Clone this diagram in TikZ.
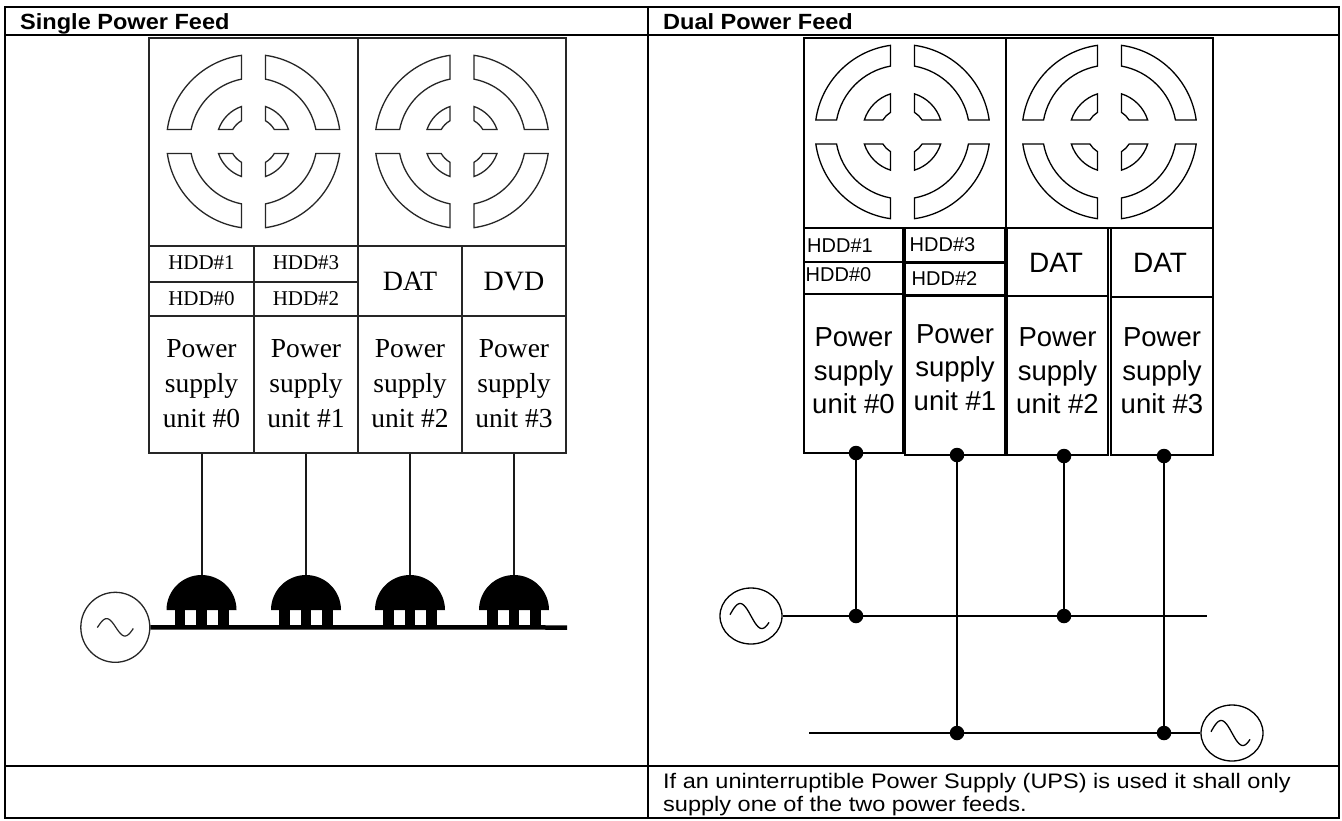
\documentclass[tikz,border=0pt]{standalone}
\usepackage{fontspec}
\usepackage{graphicx}
\setmainfont{Liberation Sans}
\newfontfamily\serifL{Liberation Serif}
\usetikzlibrary{shapes.geometric}
\newcommand\fanseg[3]{%
  \pgfmathsetmacro\aA{asin(#3/#1)}\pgfmathsetmacro\aB{asin(#3/#2)}%
  \pgfmathsetmacro\aAc{90-\aA}\pgfmathsetmacro\aBc{90-\aB}%
  \draw (\aA:#1) -- (\aB:#2) arc[start angle=\aB, end angle=\aBc, radius=#2]
    -- (\aAc:#1) arc[start angle=\aAc, end angle=\aA, radius=#1] -- cycle;}
\newcommand\drawfan[7]{%
  \foreach \rot in {0,90,180,270}{%
    \begin{scope}[shift={(#1,#2)}, rotate=\rot]
      \fanseg{#3}{#4}{#7}
      \fanseg{#5}{#6}{#7}
    \end{scope}}}
\begin{document}
\begin{tikzpicture}[x=1pt,y=-1pt,
  tbl/.style={line width=2pt},
  lline/.style={draw=black!85, line width=1.4pt},
  rline/.style={draw=black, line width=1.8pt},
  lbox/.style={draw=black!85, line width=1.4pt, rectangle, inner sep=0pt},
  rbox/.style={draw=black, line width=1.8pt, rectangle, inner sep=0pt},
  ltxt/.style={font=\serifL\fontsize{27.5}{35}\selectfont, align=center, inner sep=0pt},
  lhdd/.style={font=\serifL\fontsize{21}{22}\selectfont, inner sep=0pt, anchor=base},
  ldat/.style={font=\serifL\fontsize{28}{30}\selectfont, inner sep=0pt, anchor=base},
  rtxt/.style={font=\fontsize{27.5}{33.5}\selectfont, align=center, inner sep=0pt},
  rhdd/.style={font=\fontsize{20}{21}\selectfont, inner sep=0pt, anchor=base west},
  rdat/.style={font=\fontsize{28}{30}\selectfont, inner sep=0pt, anchor=base},
  hdr/.style={font=\bfseries\fontsize{22}{25}\selectfont, inner sep=0pt, anchor=base west},
  note/.style={font=\fontsize{21}{25}\selectfont, inner sep=0pt, anchor=base west},
  wireL/.style={line width=2pt, draw=black!90},
  wireR/.style={line width=1.9pt},
  jdot/.style={circle, fill=black, inner sep=0pt, minimum size=14.5pt},
  src/.style={draw=black, line width=1.3pt, ellipse, inner sep=0pt}]
\useasboundingbox (0,0) rectangle (1342,820);
\fill[white] (0,0) rectangle (1342,820);

% ---------- table ----------
\draw[tbl] (5,7) rectangle (1339,818);
\draw[tbl] (5,35) -- (1339,35);
\draw[tbl] (5,766) -- (1339,766);
\draw[tbl] (648,7) -- (648,818);
\node[hdr] (hA) at (20,29) {\scalebox{1.07}[1]{Single Power Feed}};
\node[hdr] (hB) at (663,29) {\scalebox{1.07}[1]{Dual Power Feed}};
\node[note] (nA) at (663,788) {\scalebox{1.12}[1]{If an uninterruptible Power Supply (UPS) is used it shall only}};
\node[note] (nB) at (663,811) {\scalebox{1.12}[1]{supply one of the two power feeds.}};

% ---------- left: single power feed ----------
\draw[lline] (149,38) rectangle (358,246);
\draw[lline] (358,38) rectangle (566,246);
\begin{scope}[draw=black!85, line width=1.3pt]
\drawfan{253.5}{141.5}{24}{37}{63.5}{87}{12}
\drawfan{462}{141.5}{24}{37}{63.5}{87}{12}
\end{scope}
\draw[lline] (149,246) rectangle (254,316);
\draw[lline] (254,246) rectangle (358,316);
\draw[lline] (358,246) rectangle (462,316);
\draw[lline] (462,246) rectangle (566,316);
\draw[lline] (149,282) -- (358,282);
\node[lhdd] (lh1) at (201.5,269) {HDD\#1};
\node[lhdd] (lh0) at (201.5,305) {HDD\#0};
\node[lhdd] (lh3) at (306,269) {HDD\#3};
\node[lhdd] (lh2) at (306,305) {HDD\#2};
\node[ldat] (ldat) at (410,290) {DAT};
\node[ldat] (ldvd) at (514,290) {DVD};
\node[lbox, minimum width=105pt, minimum height=137pt] (lpsu0) at (201.5,384.5) {};
\node[lbox, minimum width=104pt, minimum height=137pt] (lpsu1) at (306,384.5) {};
\node[lbox, minimum width=104pt, minimum height=137pt] (lpsu2) at (410,384.5) {};
\node[lbox, minimum width=104pt, minimum height=137pt] (lpsu3) at (514,384.5) {};
\node[ltxt] (lt0) at (201.5,383.5) {Power\\supply\\unit \#0};
\node[ltxt] (lt1) at (306,383.5) {Power\\supply\\unit \#1};
\node[ltxt] (lt2) at (410,383.5) {Power\\supply\\unit \#2};
\node[ltxt] (lt3) at (514,383.5) {Power\\supply\\unit \#3};
\coordinate (plug0) at (201.5,575);
\coordinate (plug1) at (306,575);
\coordinate (plug2) at (410,575);
\coordinate (plug3) at (514,575);
\foreach \i in {0,1,2,3}{
  \draw[wireL] (lpsu\i.south) -- (plug\i);
  \begin{scope}[shift={(plug\i)}]
    \fill (-35,35) arc[start angle=180, end angle=360, radius=35] -- cycle;
    \fill (-27,34) rectangle (-16.5,52);
    \fill (-5.3,34) rectangle (5.3,52);
    \fill (16.3,34) rectangle (27,52);
  \end{scope}}
\node[src, minimum width=69pt, minimum height=70pt, draw=black!85] (srcL) at (115.3,627.3) {};
\draw[line width=1.2pt, black!85, shift={(srcL.center)}] plot[domain=-18:18, samples=40, smooth] (\x,{8.7*sin((\x-0.5)/18.3*180)});
\coordinate (busLend) at (567,627.5);
\draw[line width=4.5pt] (srcL.east) -- (busLend);

% ---------- right: dual power feed ----------
\draw[rline, line width=1.6pt] (804,38) rectangle (1006,228);
\draw[rline, line width=1.6pt] (1006,38) rectangle (1213,228);
\begin{scope}[draw=black, line width=1.3pt]
\drawfan{902.5}{132}{23}{40}{67}{87.5}{12}
\drawfan{1109.5}{132}{23}{40}{67}{87.5}{12}
\end{scope}
\draw[rline] (804,228) rectangle (903,262);
\draw[rline] (804,262) rectangle (903,294);
\draw[rline] (905,228) rectangle (1005,262);
\draw[rline] (905,263.5) rectangle (1005,294.5);
\draw[rline] (1007,228) rectangle (1108,296);
\draw[rline] (1111,228) rectangle (1213,297);
\node[rhdd] (rh1) at (807,252) {HDD\#1};
\node[rhdd] (rh0) at (805.5,281) {HDD\#0};
\node[rhdd] (rh3) at (909.5,251) {HDD\#3};
\node[rhdd] (rh2) at (911.5,285) {HDD\#2};
\node[rdat] (rdat1) at (1056,272) {DAT};
\node[rdat] (rdat2) at (1160,272) {DAT};
\node[rbox, minimum width=99pt, minimum height=159pt] (rpsu0) at (853.5,373.5) {};
\node[rbox, minimum width=100pt, minimum height=159pt] (rpsu1) at (955,375.5) {};
\node[rbox, minimum width=101pt, minimum height=159pt] (rpsu2) at (1057.5,375.5) {};
\node[rbox, minimum width=102pt, minimum height=158pt] (rpsu3) at (1162,376) {};
\node[rtxt] (rt0) at (853.5,370.7) {Power\\supply\\unit \#0};
\node[rtxt] (rt1) at (955,367.3) {Power\\supply\\unit \#1};
\node[rtxt] (rt2) at (1057.5,370.7) {Power\\supply\\unit \#2};
\node[rtxt] (rt3) at (1162,370.7) {Power\\supply\\unit \#3};
\node[jdot] (d0) at (856,453) {};
\node[jdot] (d1) at (957,455) {};
\node[jdot] (d2) at (1064,456) {};
\node[jdot] (d3) at (1164,456) {};
\node[jdot] (j0) at (856,616) {};
\node[jdot] (j2) at (1064,616) {};
\node[jdot] (j1) at (957,733) {};
\node[jdot] (j3) at (1164,733) {};
\node[src, minimum width=62pt, minimum height=56pt] (srcA) at (751,616) {};
\node[src, minimum width=62pt, minimum height=56pt] (srcB) at (1232,733) {};
\foreach \s in {srcA,srcB}{
  \draw[line width=1.3pt, shift={(\s.center)}] plot[domain=-21:18, samples=40, smooth] (\x,{12.5*sin(\x/21.7*180)});}
\coordinate (bus1end) at (1207,616);
\coordinate (bus2start) at (809,733);
\draw[wireR] (srcA.east) -- (bus1end);
\draw[wireR] (bus2start) -- (srcB.west);
\draw[wireR] (d0.center) -- (j0.center);
\draw[wireR] (d1.center) -- (j1.center);
\draw[wireR] (d2.center) -- (j2.center);
\draw[wireR] (d3.center) -- (j3.center);
\end{tikzpicture}
\end{document}
